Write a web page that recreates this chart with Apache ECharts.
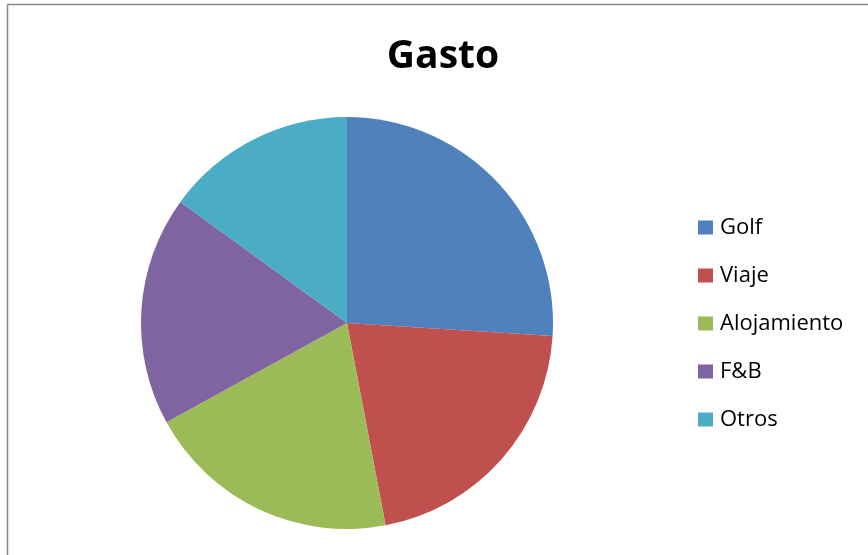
<!DOCTYPE html>
<html>
<head>
<meta charset="utf-8">
<style>
  html, body { margin: 0; padding: 0; background: #fff; }
  #chart { width: 868px; height: 555px; }
</style>
<script src="https://cdn.jsdelivr.net/npm/echarts@6/dist/echarts.min.js"></script>
</head>
<body>
<div id="chart"></div>
<script>
// Spending breakdown (percent of total)
const categories = ['Golf', 'Viaje', 'Alojamiento', 'F&B', 'Otros'];
const values = [26, 21, 20, 18, 15];
const colors = ['#4F81BD', '#C0504D', '#9BBB59', '#8064A2', '#4BACC6'];

const chart = echarts.init(document.getElementById('chart'), null, { renderer: 'canvas' });

chart.setOption({
  backgroundColor: '#ffffff',
  animation: false,
  color: colors,
  title: {
    text: 'Gasto',
    left: 438,
    top: 32,
    textAlign: 'center',
    textStyle: {
      fontFamily: '"Open Sans", Lato, sans-serif',
      fontWeight: 'bold',
      fontSize: 39,
      color: '#000'
    }
  },
  legend: {
    orient: 'vertical',
    left: 698,
    top: 216,
    padding: 0,
    itemWidth: 15,
    itemHeight: 14,
    itemGap: 25,
    icon: 'rect',
    textStyle: {
      fontFamily: '"Open Sans", Lato, sans-serif',
      fontSize: 22,
      lineHeight: 23,
      color: '#000',
      padding: [0, 0, 0, 2]
    },
    data: categories
  },
  graphic: [
    { type: 'line', shape: { x1: 7.5, y1: 4.5, x2: 868, y2: 4.5 }, style: { stroke: '#898989', lineWidth: 1.5 } },
    { type: 'line', shape: { x1: 7.5, y1: 4.5, x2: 7.5, y2: 555 }, style: { stroke: '#898989', lineWidth: 1.5 } }
  ],
  series: [{
    type: 'pie',
    center: [347, 323],
    radius: [0, 206],
    startAngle: 90,
    clockwise: true,
    label: { show: false },
    labelLine: { show: false },
    itemStyle: { borderWidth: 0 },
    emphasis: { disabled: true },
    data: categories.map((name, i) => ({ name, value: values[i] }))
  }]
});
</script>
</body>
</html>
